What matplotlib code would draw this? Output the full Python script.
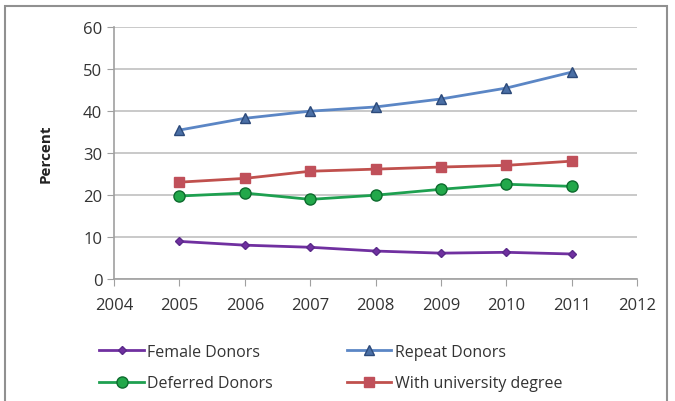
import matplotlib
matplotlib.use("Agg")
import matplotlib.pyplot as plt
from matplotlib.patches import Rectangle

years = [2005, 2006, 2007, 2008, 2009, 2010, 2011]
female = [9.0, 8.1, 7.6, 6.7, 6.2, 6.4, 6.0]
repeat = [35.5, 38.3, 40.0, 41.0, 42.9, 45.5, 49.3]
deferred = [19.8, 20.5, 19.0, 20.0, 21.4, 22.6, 22.1]
university = [23.1, 24.0, 25.7, 26.2, 26.7, 27.1, 28.1]
xticks = [2004, 2005, 2006, 2007, 2008, 2009, 2010, 2011, 2012]
yticks = [0, 10, 20, 30, 40, 50, 60]

plt.rcParams['font.family'] = ['Open Sans', 'DejaVu Sans']
fig = plt.figure(figsize=(6.75, 4.02), dpi=100)
ax = fig.add_axes([0.169, 0.303, 0.775, 0.627])

ax.plot(years, female, color='#7030A0', marker='D', markersize=4.5, lw=2,
        markeredgecolor='#5a2a8a', label='Female Donors')
ax.plot(years, repeat, color='#5B86C5', marker='^', markersize=7, lw=2,
        markerfacecolor='#4a6fa5', markeredgecolor='#2c4a7a', label='Repeat Donors')
ax.plot(years, deferred, color='#1EA050', marker='o', markersize=8, lw=2,
        markerfacecolor='#22a84a', markeredgecolor='#0d6b2e', label='Deferred Donors')
ax.plot(years, university, color='#C0504D', marker='s', markersize=7, lw=2,
        markerfacecolor='#c0505a', markeredgecolor='#c0505a', label='With university degree')

ax.set_xlim(2004, 2012)
ax.set_ylim(0, 60)
ax.set_xticks(xticks)
ax.set_yticks(yticks)
ax.yaxis.grid(True, color='#c0c0c0', lw=1.2)
ax.set_axisbelow(True)
for s in ['top', 'right']:
    ax.spines[s].set_visible(False)
for s in ['left', 'bottom']:
    ax.spines[s].set_color('#a0a0a0')
    ax.spines[s].set_linewidth(1.2)
ax.tick_params(axis='both', colors='#a0a0a0', labelcolor='#333333', labelsize=12, length=5)
ax.tick_params(axis='x', pad=8)
ax.set_ylabel('Percent', fontsize=11, fontweight='bold', labelpad=22, color='#222222')

handles, labels = ax.get_legend_handles_labels()
order = [0, 2, 1, 3]
leg = fig.legend([handles[i] for i in order], [labels[i] for i in order],
                 loc='center', bbox_to_anchor=(0.49, 0.083), ncol=2, frameon=False,
                 fontsize=11.5, columnspacing=4.6, handlelength=2.8, handletextpad=0.2,
                 labelspacing=0.95)
for t in leg.get_texts():
    t.set_color('#333333')

fig.patches.append(Rectangle((0.008, -0.1), 0.98, 1.082, transform=fig.transFigure,
                             fill=False, edgecolor='#909090', lw=1.5))
fig.savefig('out.png', dpi=100)
